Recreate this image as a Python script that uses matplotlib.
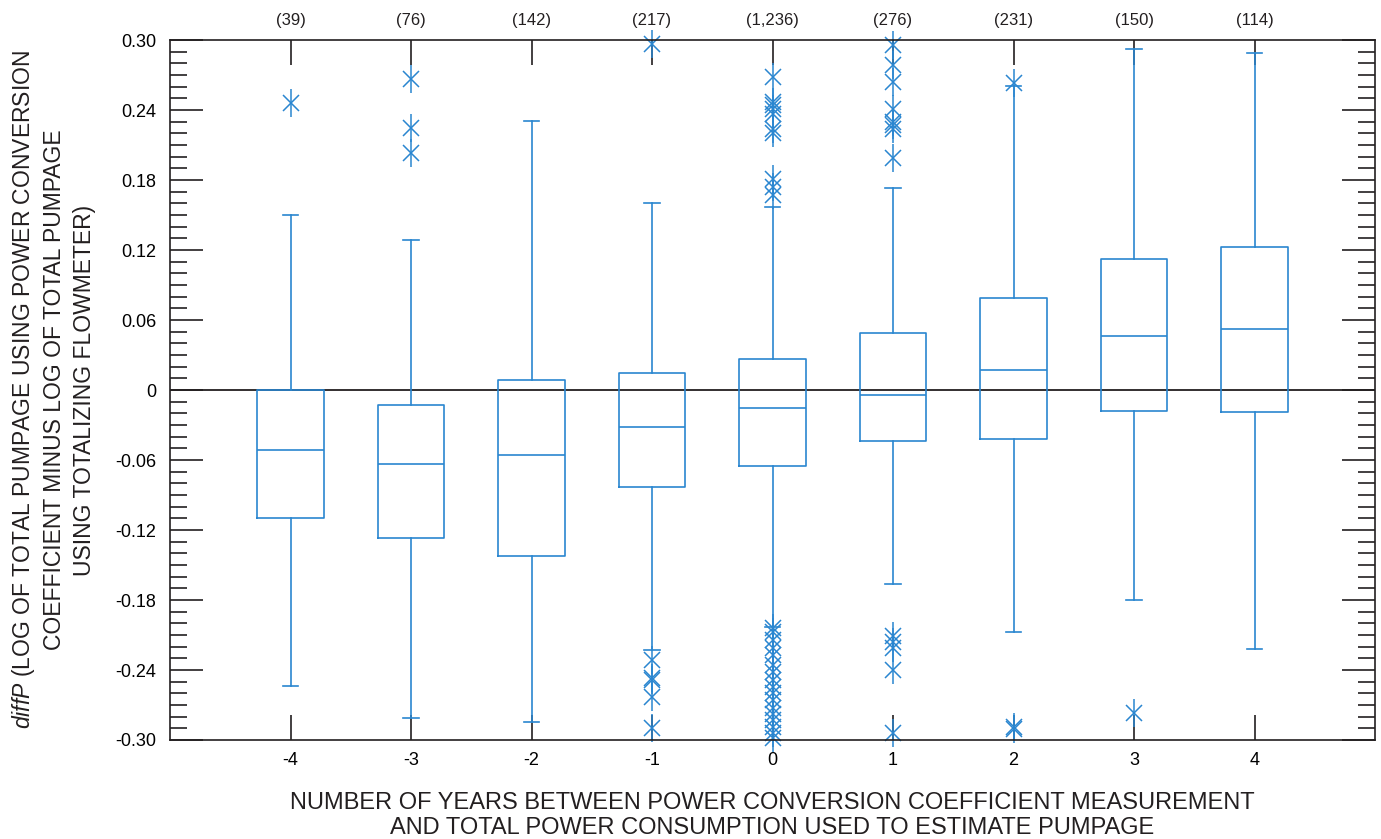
import numpy as np
import matplotlib
matplotlib.use('Agg')
import matplotlib.pyplot as plt
from matplotlib.ticker import MultipleLocator
import matplotlib.transforms as mtransforms

plt.rcParams['font.family'] = ['Liberation Sans', 'DejaVu Sans']
plt.rcParams['mathtext.fontset'] = 'custom'
plt.rcParams['mathtext.it'] = 'Liberation Sans:italic'
plt.rcParams['mathtext.rm'] = 'Liberation Sans'

# 年份差（类别）和每组样本数
years = [-4, -3, -2, -1, 0, 1, 2, 3, 4]
counts = ['(39)', '(76)', '(142)', '(217)', '(1,236)', '(276)', '(231)', '(150)', '(114)']

# 箱线图统计量
q1 = [-0.110, -0.127, -0.142, -0.083, -0.065, -0.044, -0.042, -0.018, -0.019]
med = [-0.051, -0.063, -0.056, -0.032, -0.015, -0.004, 0.017, 0.046, 0.052]
q3 = [0.000, -0.013, 0.009, 0.015, 0.027, 0.049, 0.079, 0.112, 0.123]
whislo = [-0.254, -0.281, -0.285, -0.223, -0.203, -0.166, -0.207, -0.180, -0.222]
whishi = [0.150, 0.129, 0.231, 0.160, 0.157, 0.173, 0.261, 0.292, 0.289]

# 离群点
fliers = [
    [0.246],
    [0.267, 0.225, 0.203],
    [],
    [0.297, -0.231, -0.247, -0.249, -0.263, -0.290],
    [0.268, 0.247, 0.244, 0.241, 0.237, 0.224, 0.220, 0.181, 0.174, 0.167,
     -0.204, -0.207, -0.214, -0.221, -0.227, -0.236, -0.242, -0.249, -0.255,
     -0.260, -0.266, -0.273, -0.278, -0.283, -0.289, -0.294, -0.298],
    [0.296, 0.279, 0.264, 0.241, 0.230, 0.227, 0.224, 0.199,
     -0.211, -0.216, -0.221, -0.240, -0.294],
    [0.263, -0.289, -0.291],
    [-0.277],
    [],
]

yticks = [0.30, 0.24, 0.18, 0.12, 0.06, 0, -0.06, -0.12, -0.18, -0.24, -0.30]
ytick_labels = ['0.30', '0.24', '0.18', '0.12', '0.06', '0', '-0.06', '-0.12', '-0.18', '-0.24', '-0.30']

blue = '#2a86d0'
dark = '#231f20'

fig = plt.figure(figsize=(13.81, 8.39), dpi=100)
ax = fig.add_axes([0.1231, 0.118, 0.8726, 0.8343])

stats = []
for i in range(len(years)):
    stats.append(dict(med=med[i], q1=q1[i], q3=q3[i], whislo=whislo[i],
                      whishi=whishi[i], fliers=[]))

ax.bxp(stats, positions=years, widths=0.55, capwidths=0.13, showfliers=False,
       boxprops=dict(color=blue, lw=1.2),
       whiskerprops=dict(color=blue, lw=1.2),
       capprops=dict(color=blue, lw=1.2),
       medianprops=dict(color=blue, lw=1.2))

# 离群点用星号表示（竖线 + x）
for x, f in zip(years, fliers):
    if len(f) == 0:
        continue
    xs = np.full(len(f), x)
    ax.plot(xs, f, ls='none', marker='|', ms=20, mew=1.1, color=blue, clip_on=False)
    ax.plot(xs, f, ls='none', marker='x', ms=12, mew=1.1, color=blue, clip_on=False)

ax.axhline(0, color=dark, lw=1.3, zorder=0)

ax.set_xlim(-5, 5)
ax.set_ylim(-0.30, 0.30)

ax.set_xticks(years)
ax.set_xticklabels([str(y) for y in years], fontsize=13)
ax.set_yticks(yticks)
ax.set_yticklabels(ytick_labels, fontsize=13)
ax.yaxis.set_minor_locator(MultipleLocator(0.01))

ax.tick_params(axis='y', which='major', direction='in', length=24, width=1.2,
               left=True, right=True, color=dark, pad=10)
ax.tick_params(axis='y', which='minor', direction='in', length=12, width=1.2,
               left=True, right=True, color=dark)
ax.tick_params(axis='x', which='major', direction='in', length=18, width=1.2,
               top=True, bottom=True, color=dark, pad=9)
ax.tick_params(axis='x', which='minor', bottom=False, top=False)

for s in ax.spines.values():
    s.set_color(dark)
    s.set_linewidth(1.2)

# 样本数标签
trans = mtransforms.blended_transform_factory(ax.transData, ax.transAxes)
for x, c in zip(years, counts):
    ax.text(x, 1.028, c, transform=trans, ha='center', va='center', fontsize=12, color=dark)

ax.set_xlabel('NUMBER OF YEARS BETWEEN POWER CONVERSION COEFFICIENT MEASUREMENT\n'
              'AND TOTAL POWER CONSUMPTION USED TO ESTIMATE PUMPAGE',
              fontsize=17, color=dark, labelpad=16, linespacing=1.18)
ax.set_ylabel('$\\mathit{diffP}$ (LOG OF TOTAL PUMPAGE USING POWER CONVERSION\n'
              'COEFFICIENT MINUS LOG OF TOTAL PUMPAGE\n'
              'USING TOTALIZING FLOWMETER)',
              fontsize=16.5, color=dark, labelpad=14, linespacing=1.35)

plt.savefig('out.png', dpi=100)
